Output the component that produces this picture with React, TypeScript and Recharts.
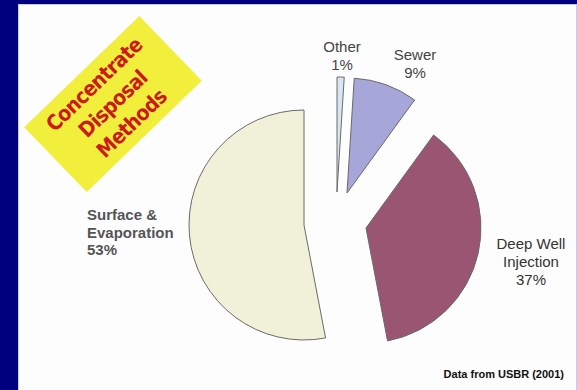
import { PieChart, Pie, Cell } from 'recharts'

const categories = ['Other', 'Sewer', 'Deep Well Injection', 'Surface & Evaporation']
const shares = [1, 9, 37, 53]
const colors = ['#d6e6f2', '#a6a6d8', '#9a5572', '#f1f1d9']

const data = categories.map((name, i) => ({ name, value: shares[i] }))

// each slice is pulled out of the pie on its own, so each gets its own centre
const sliceCenters = [
  { cx: 337, cy: 192 },
  { cx: 347, cy: 193 },
  { cx: 366, cy: 228 },
  { cx: 304, cy: 225 },
]
const radius = 115

const labelSpots: Record<string, { x: number; y: number; anchor: 'start' | 'middle'; bold?: boolean; color: string; gap: number }> = {
  Other: { x: 342, y: 52, anchor: 'middle', color: '#444', gap: 18 },
  Sewer: { x: 415, y: 60, anchor: 'middle', color: '#444', gap: 18 },
  'Deep Well Injection': { x: 531, y: 249, anchor: 'middle', color: '#333', gap: 18 },
  'Surface & Evaporation': { x: 87, y: 220, anchor: 'start', bold: true, color: '#555', gap: 17.5 },
}

const renderLabel = (props: any) => {
  const { name, percent } = props
  const spot = labelSpots[name]
  if (!spot) return null
  const words = String(name).split(' ')
  const lines = words.length > 1 ? [words.slice(0, -1).join(' '), words[words.length - 1]] : [name]
  lines.push(`${Math.round(percent * 100)}%`)
  return (
    <text
      key={name}
      x={spot.x}
      y={spot.y}
      textAnchor={spot.anchor}
      fill={spot.color}
      fontFamily="'Liberation Sans', Arial, sans-serif"
      fontSize={15}
      fontWeight={spot.bold ? 700 : 400}
    >
      {lines.map((l, i) => (
        <tspan key={i} x={spot.x} dy={i === 0 ? 0 : spot.gap}>
          {l}
        </tspan>
      ))}
    </text>
  )
}

export default function App() {
  return (
    <div style={{ position: 'absolute', left: 0, top: 0, width: 577, height: 390, background: '#00007f', overflow: 'hidden' }}>
      <div style={{ position: 'absolute', left: 18, top: 4, right: 0, bottom: 0, background: '#c8c8f4' }} />
      <div style={{ position: 'absolute', left: 19, top: 5, right: 1, bottom: 0, background: '#fdfdfe' }} />

      <div style={{ position: 'absolute', left: 0, top: 0 }}>
        <PieChart width={577} height={390} margin={{ top: 0, right: 0, bottom: 0, left: 0 }}>
          {sliceCenters.map((c, idx) => (
            <Pie
              key={idx}
              data={data}
              dataKey="value"
              nameKey="name"
              cx={c.cx}
              cy={c.cy}
              outerRadius={radius}
              startAngle={90}
              endAngle={-270}
              isAnimationActive={false}
              label={idx === 0 ? renderLabel : false}
              labelLine={false}
            >
              {data.map((d, i) => (
                <Cell
                  key={d.name}
                  fill={i === idx ? colors[i] : 'none'}
                  stroke={i === idx ? '#6a6a6a' : 'none'}
                  strokeWidth={1}
                />
              ))}
            </Pie>
          ))}
        </PieChart>
      </div>

      <div
        style={{
          position: 'absolute',
          left: 33,
          top: 59,
          width: 160,
          height: 90,
          background: '#f2ef3c',
          transform: 'rotate(-44deg)',
          display: 'flex',
          flexDirection: 'column',
          alignItems: 'center',
          justifyContent: 'center',
          color: '#cc1a1a',
          fontFamily: "'DejaVu Sans Condensed', 'DejaVu Sans', sans-serif",
          fontStretch: 'condensed',
          fontWeight: 700,
          fontSize: 21,
          lineHeight: '27px',
          letterSpacing: -0.6,
        }}
      >
        <div>Concentrate</div>
        <div>Disposal</div>
        <div>Methods</div>
      </div>

      <div
        style={{
          position: 'absolute',
          right: 13,
          top: 368,
          fontFamily: "'Liberation Sans', Arial, sans-serif",
          fontWeight: 700,
          fontSize: 11,
          color: '#111',
        }}
      >
        Data from USBR (2001)
      </div>
    </div>
  )
}
